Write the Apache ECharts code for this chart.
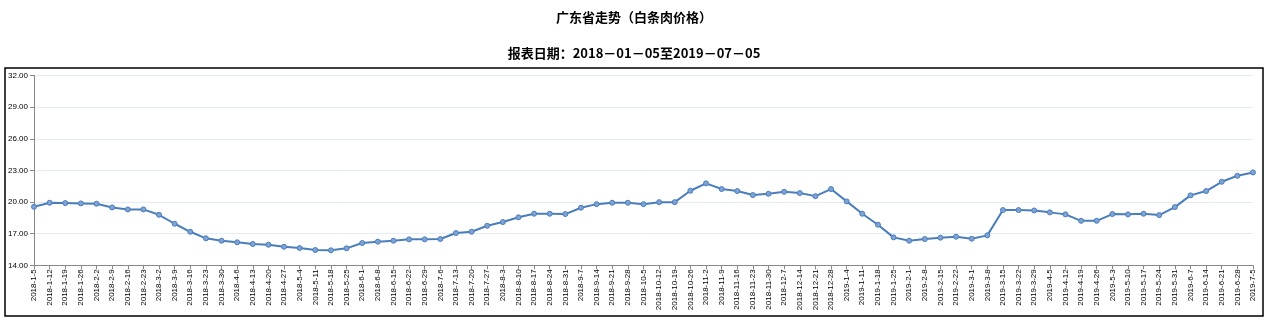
<!DOCTYPE html>
<html>
<head>
<meta charset="utf-8">
<script src="https://cdn.jsdelivr.net/npm/echarts@6/dist/echarts.min.js"></script>
<style>html,body{margin:0;padding:0;background:#fff;}#c{width:1268px;height:322px;}</style>
</head>
<body>
<div id="c"></div>
<script>
var titleText = '广东省走势（白条肉价格）';
var subtitleText = '报表日期：2018－01－05至2019－07－05';
var categories = [
  '2018-1-5','2018-1-12','2018-1-19','2018-1-26','2018-2-2','2018-2-9','2018-2-16','2018-2-23',
  '2018-3-2','2018-3-9','2018-3-16','2018-3-23','2018-3-30','2018-4-6','2018-4-13','2018-4-20','2018-4-27',
  '2018-5-4','2018-5-11','2018-5-18','2018-5-25','2018-6-1','2018-6-8','2018-6-15','2018-6-22','2018-6-29',
  '2018-7-6','2018-7-13','2018-7-20','2018-7-27','2018-8-3','2018-8-10','2018-8-17','2018-8-24','2018-8-31',
  '2018-9-7','2018-9-14','2018-9-21','2018-9-28','2018-10-5','2018-10-12','2018-10-19','2018-10-26',
  '2018-11-2','2018-11-9','2018-11-16','2018-11-23','2018-11-30','2018-12-7','2018-12-14','2018-12-21','2018-12-28',
  '2019-1-4','2019-1-11','2019-1-18','2019-1-25','2019-2-1','2019-2-8','2019-2-15','2019-2-22',
  '2019-3-1','2019-3-8','2019-3-15','2019-3-22','2019-3-29','2019-4-5','2019-4-12','2019-4-19','2019-4-26',
  '2019-5-3','2019-5-10','2019-5-17','2019-5-24','2019-5-31','2019-6-7','2019-6-14','2019-6-21','2019-6-28','2019-7-5'
];
var prices = [
  19.55,19.93,19.90,19.87,19.84,19.49,19.30,19.30,
  18.79,17.94,17.18,16.56,16.33,16.18,16.02,15.95,15.76,
  15.64,15.45,15.42,15.61,16.11,16.24,16.33,16.46,16.46,
  16.49,17.06,17.18,17.75,18.10,18.55,18.89,18.89,18.86,
  19.46,19.80,19.93,19.93,19.80,19.99,19.99,21.07,
  21.77,21.23,21.04,20.66,20.78,20.97,20.85,20.56,21.23,
  20.06,18.89,17.85,16.65,16.33,16.49,16.62,16.71,
  16.52,16.84,19.24,19.24,19.20,19.02,18.83,18.22,18.22,
  18.86,18.83,18.89,18.76,19.52,20.63,21.04,21.92,22.49,22.81
];
var yMin = 14, yMax = 32, yStep = 3;

var chart = echarts.init(document.getElementById('c'), null, {renderer: 'canvas'});
chart.setOption({
  animation: false,
  backgroundColor: '#ffffff',
  title: [
    {text: titleText, left: 'center', top: 6, textStyle: {fontSize: 13, fontWeight: 'bold', color: '#000', fontFamily: 'Noto Sans CJK SC'}},
    {text: subtitleText, left: 'center', top: 42, textStyle: {fontSize: 13, fontWeight: 'bold', color: '#000', fontFamily: 'Noto Sans CJK SC'}}
  ],
  graphic: [
    {type: 'rect', shape: {x: 5, y: 68, width: 1258, height: 248}, style: {fill: 'none', stroke: '#000', lineWidth: 1.5}, z: 0, silent: true}
  ],
  grid: {left: 34, right: 15, top: 75.5, bottom: 56.7, containLabel: false},
  xAxis: {
    type: 'category',
    data: categories,
    boundaryGap: false,
    axisLine: {lineStyle: {color: '#888', width: 1}},
    axisTick: {show: true, alignWithLabel: true, length: 4, lineStyle: {color: '#888'}},
    axisLabel: {interval: 0, rotate: 90, fontSize: 8, margin: 4, color: '#000', fontFamily: 'Liberation Sans'},
    splitLine: {show: false}
  },
  yAxis: {
    type: 'value',
    min: yMin, max: yMax, interval: yStep,
    axisLine: {show: true, lineStyle: {color: '#888', width: 1}},
    axisTick: {show: true, length: 4, lineStyle: {color: '#888'}},
    axisLabel: {fontSize: 8, margin: 6, color: '#000', fontFamily: 'Liberation Sans', formatter: function (v) { return v.toFixed(2); }},
    splitLine: {show: true, lineStyle: {color: '#e4ecf6', width: 1}}
  },
  series: [{
    type: 'line',
    data: prices,
    symbol: 'circle',
    symbolSize: 5,
    showAllSymbol: true,
    lineStyle: {color: '#4a7ebb', width: 2},
    itemStyle: {color: '#7fa3d6', borderColor: '#4a7ebb', borderWidth: 1}
  }]
});
</script>
</body>
</html>
